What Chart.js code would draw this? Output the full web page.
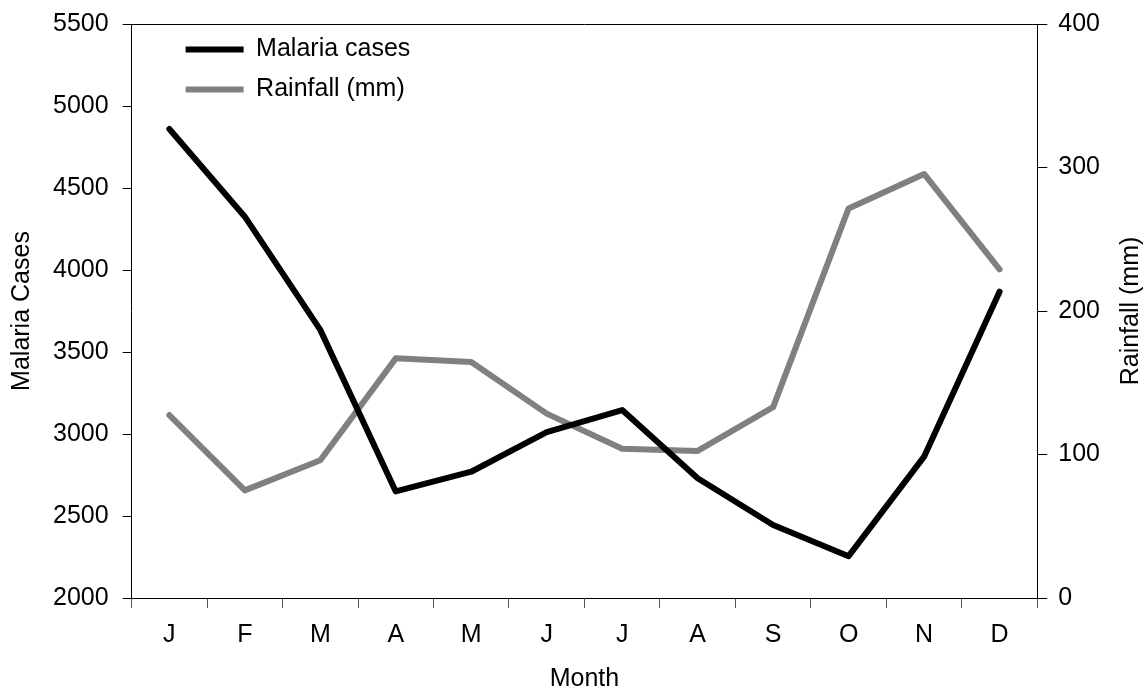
<!DOCTYPE html>
<html>
<head>
<meta charset="utf-8">
<script src="https://cdn.jsdelivr.net/npm/chart.js@4/dist/chart.umd.min.js"></script>
<style>
  html, body { margin: 0; padding: 0; background: #fff; }
  #wrap { width: 1145px; height: 692px; }
</style>
</head>
<body>
<div id="wrap"><canvas id="chart"></canvas></div>
<script>
// chart data
var months = ['J', 'F', 'M', 'A', 'M', 'J', 'J', 'A', 'S', 'O', 'N', 'D'];
var malariaCases = [4860, 4325, 3635, 2650, 2770, 3012, 3146, 2730, 2445, 2255, 2862, 3868];
var rainfallMm = [127.5, 75, 96, 167, 164.5, 128.5, 104, 102.5, 133, 271.5, 295.5, 229];

var FONT = '"Liberation Sans", Arial, sans-serif';
var FS = 25;

// the top edge of the frame
var frameTop = {
    id: 'frameTop',
    afterDraw: function (chart) {
        var a = chart.chartArea;
        var ctx = chart.ctx;
        ctx.save();
        ctx.strokeStyle = '#000';
        ctx.lineWidth = 1;
        ctx.beginPath();
        ctx.moveTo(a.left, a.top + 0.5);
        ctx.lineTo(a.right, a.top + 0.5);
        ctx.stroke();
        ctx.restore();
    }
};

// right title reads bottom-to-top, chart.js turns it the other way
var rightTitle = {
    id: 'rightTitle',
    afterDraw: function (chart) {
        var s = chart.scales.y2;
        var ctx = chart.ctx;
        ctx.save();
        ctx.translate(s.right - 14, (s.top + s.bottom) / 2);
        ctx.rotate(-Math.PI / 2);
        ctx.fillStyle = '#000';
        ctx.font = FS + 'px ' + FONT;
        ctx.textAlign = 'center';
        ctx.textBaseline = 'middle';
        ctx.fillText('Rainfall (mm)', 0, 0);
        ctx.restore();
    }
};

// put the legend inside the plot, top left
var legendShift = {
    id: 'legendShift',
    afterLayout: function (chart) {
        var lg = chart.legend;
        var a = chart.chartArea;
        var w = lg.width, h = lg.height;
        lg.left = a.left + 39;
        lg.right = lg.left + w;
        lg.top = a.top - 2;
        lg.bottom = lg.top + h;
    }
};

// top label may hang over the plot edge, layout padding handles it
function noTopPad(scale) {
    scale.paddingTop = 0;
}

var ctx = document.getElementById('chart');
var myChart = new Chart(ctx, {
    type: 'line',
    data: {
        labels: months,
        datasets: [{
            label: 'Malaria cases',
            data: malariaCases,
            yAxisID: 'y',
            borderColor: '#000000',
            backgroundColor: '#000000',
            borderWidth: 6,
            pointRadius: 0,
            borderCapStyle: 'round',
            borderJoinStyle: 'round',
            tension: 0
        }, {
            label: 'Rainfall (mm)',
            data: rainfallMm,
            yAxisID: 'y2',
            borderColor: '#808080',
            backgroundColor: '#808080',
            borderWidth: 6,
            pointRadius: 0,
            borderCapStyle: 'round',
            borderJoinStyle: 'round',
            tension: 0
        }]
    },
    options: {
        responsive: true,
        maintainAspectRatio: false,
        animation: false,
        layout: { padding: { top: 24, left: 0, right: 0, bottom: 0 } },
        plugins: {
            tooltip: { enabled: false },
            legend: {
                position: 'chartArea',
                align: 'start',
                labels: {
                    color: '#000',
                    font: { family: FONT, size: FS },
                    boxWidth: 58,
                    boxHeight: 6,
                    padding: 15,
                    useBorderRadius: true,
                    borderRadius: 3,
                    generateLabels: function (chart) {
                        return chart.data.datasets.map(function (ds, i) {
                            return {
                                text: ds.label,
                                fillStyle: ds.borderColor,
                                strokeStyle: ds.borderColor,
                                lineWidth: 0,
                                fontColor: '#000',
                                datasetIndex: i
                            };
                        });
                    }
                }
            }
        },
        scales: {
            x: {
                offset: true,
                grid: { offset: true, drawOnChartArea: false, tickLength: 10, color: '#555' },
                border: { color: '#000', width: 1 },
                ticks: { color: '#000', font: { family: FONT, size: FS }, padding: 12, maxRotation: 0, autoSkip: false },
                title: {
                    display: true, text: 'Month', color: '#000',
                    font: { family: FONT, size: FS, lineHeight: 1 },
                    padding: { top: 5, bottom: 0 }
                }
            },
            y: {
                position: 'left',
                min: 2000, max: 5500,
                afterFit: noTopPad,
                grid: { drawOnChartArea: false, tickLength: 9, color: '#000' },
                border: { color: '#000', width: 1 },
                ticks: {
                    stepSize: 500, color: '#000', font: { family: FONT, size: FS }, padding: 14,
                    callback: function (v) { return String(v); }
                },
                title: {
                    display: true, text: 'Malaria Cases', color: '#000',
                    font: { family: FONT, size: FS, lineHeight: 1 },
                    padding: { top: 10, bottom: 4 }
                }
            },
            y2: {
                position: 'right',
                min: 0, max: 400,
                afterFit: noTopPad,
                grid: { drawOnChartArea: false, tickLength: 10, color: '#000' },
                border: { color: '#000', width: 1 },
                ticks: {
                    stepSize: 100, color: '#000', font: { family: FONT, size: FS }, padding: 11,
                    callback: function (v) { return String(v); }
                },
                title: {
                    display: true, text: 'Rainfall (mm)', color: 'rgba(0,0,0,0)',
                    font: { family: FONT, size: FS, lineHeight: 1 },
                    padding: { top: 2, bottom: 7 }
                }
            }
        }
    },
    plugins: [frameTop, rightTitle, legendShift]
});
</script>
</body>
</html>
